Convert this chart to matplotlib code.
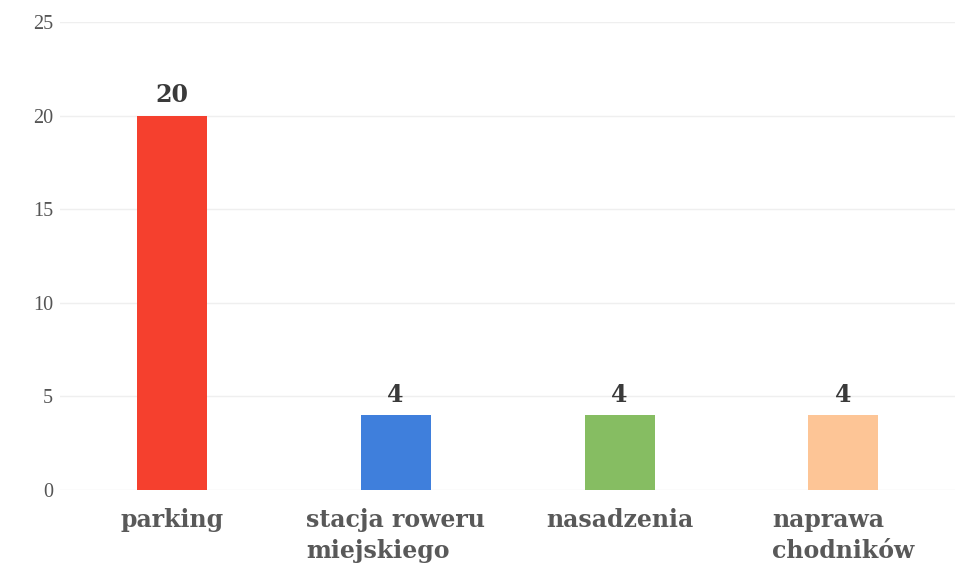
"""Bar chart: counts of proposals per category."""

import matplotlib

matplotlib.use("Agg")
import matplotlib.pyplot as plt
import numpy as np

categories = ["parking", "stacja roweru\nmiejskiego", "nasadzenia", "naprawa\nchodników"]
counts = [20, 4, 4, 4]
bar_colors = ["#f5402e", "#3f7fdc", "#86bd62", "#fdc596"]
y_ticks = [0, 5, 10, 15, 20, 25]

fig = plt.figure(figsize=(9.67, 5.84), dpi=100)
ax = fig.add_axes([0.062, 0.161, 0.926, 0.801])

x = np.arange(len(categories))
ax.bar(x, counts, width=0.3125, color=bar_colors, zorder=2)

for xi, val in zip(x, counts):
    ax.text(xi, val + 0.45, str(val), ha="center", va="bottom",
            fontsize=17, fontweight="bold", family="DejaVu Serif", color="#3a3a3a")

ax.set_xlim(-0.5, 3.5)
ax.set_ylim(0, 25)
ax.set_yticks(y_ticks)
ax.set_yticklabels([str(t) for t in y_ticks], family="Liberation Serif",
                   fontsize=14.5, color="#555555")
ax.set_xticks(x)
ax.set_xticklabels(categories, family="DejaVu Serif", fontweight="bold",
                   fontsize=17, color="#595959", multialignment="left", linespacing=1.35)
ax.tick_params(axis="y", length=0, pad=5)
ax.tick_params(axis="x", length=0, pad=13)
ax.grid(axis="y", color="#efefef", linewidth=1.0, zorder=0)
for spine in ax.spines.values():
    spine.set_visible(False)

fig.savefig("out.png", dpi=100, facecolor="white")
